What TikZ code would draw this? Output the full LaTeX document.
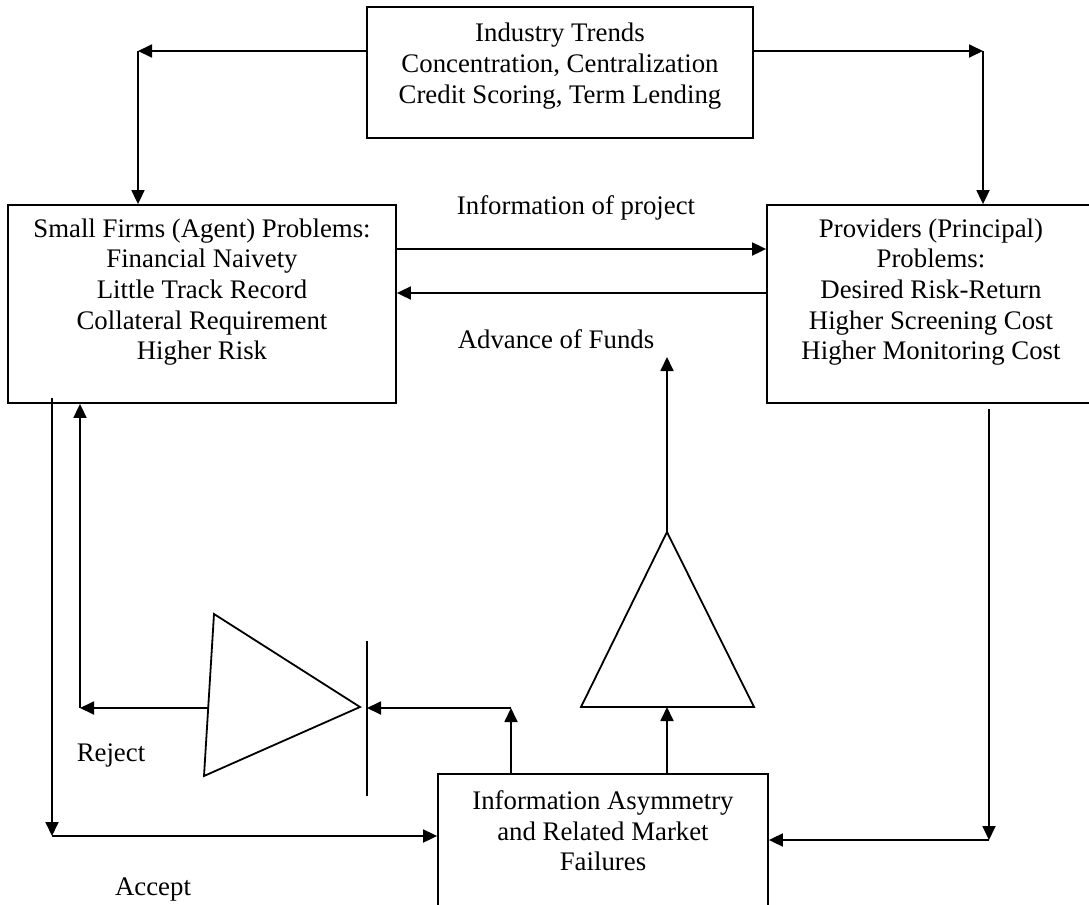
\documentclass[tikz,border=0pt]{standalone}
\usepackage{fontspec}
\setmainfont{Liberation Serif}
\usetikzlibrary{arrows.meta}

\begin{document}
\begin{tikzpicture}[x=0.5pt,y=-0.5pt,line width=0.9pt,
  box/.style={draw,inner sep=0pt},
  txt/.style={align=center,inner sep=0pt,font=\fontsize{13.4}{15.3}\selectfont},
  arr/.style={-{Triangle[length=7pt,width=6.5pt]}}]
\useasboundingbox (0,0) rectangle (1089,905);

% the four boxes
\node[box,minimum width=193pt,minimum height=65.5pt] (trends) at (560,72.5) {};
\node[box,minimum width=194pt,minimum height=99pt] (firms) at (202,304) {};
\node[box,minimum width=162.5pt,minimum height=99pt] (providers) at (929.5,304) {};
\node[box,minimum width=165pt,minimum height=76pt] (asym) at (603,850) {};

\node[txt] (trendstxt) at (560,66) {Industry Trends\\Concentration, Centralization\\Credit Scoring, Term Lending};
\node[txt] (firmstxt) at (202,292) {Small Firms (Agent) Problems:\\Financial Naivety\\Little Track Record\\Collateral Requirement\\Higher Risk};
\node[txt] (provtxt) at (931,292) {Providers (Principal)\\Problems:\\Desired Risk-Return\\Higher Screening Cost\\Higher Monitoring Cost};
\node[txt] (asymtxt) at (603,831) {Information Asymmetry\\and Related Market\\Failures};

\node[txt] (infolbl) at (576,208) {Information of project};
\node[txt] (fundslbl) at (556,339) {Advance of Funds};
\node[txt] (rejectlbl) at (111,755) {Reject};
\node[txt] (acceptlbl) at (153,889) {Accept};

% triangles and bar
\coordinate (ltop) at (214,614);
\coordinate (ltip) at (360,707);
\coordinate (lbot) at (204,776);
\coordinate (lside) at (208,708);
\coordinate (bartop) at (367,641);
\coordinate (barbot) at (367,796);
\coordinate (uapex) at (667,532);
\coordinate (ubl) at (581,707);
\coordinate (ubr) at (754,707);
\draw (ltop) -- (ltip) -- (lbot) -- cycle;
\draw (bartop) -- (barbot);
\draw (uapex) -- (ubr) -- (ubl) -- cycle;

% arrows
\coordinate (tl) at (138,51);
\coordinate (tr) at (983,51);
\draw[arr] (trends.west |- tl) -- (tl);
\draw[arr] (tl) -- (tl |- firms.north);
\draw[arr] (trends.east |- tr) -- (tr);
\draw[arr] (tr) -- (tr |- providers.north);

\draw[arr] (firms.east |- 0,249) -- (providers.west |- 0,249);
\draw[arr] (providers.west |- 0,293) -- (firms.east |- 0,293);

\coordinate (fundsup) at (667,357);
\draw[arr] (uapex) -- (fundsup);
\draw[arr] (asym.north -| uapex) -- (uapex |- ubl);

\coordinate (rejturn) at (511,708);
\draw[arr] (asym.north -| rejturn) -- (rejturn);
\draw[arr] (rejturn) -- (rejturn -| bartop);

\coordinate (rejcorner) at (80,708);
\draw[arr] (lside) -- (rejcorner);
\draw[arr] (rejcorner) -- (rejcorner |- firms.south);

\coordinate (accstart) at (52,398);
\coordinate (acccorner) at (52,836);
\draw[arr] (accstart) -- (acccorner);
\draw[arr] (acccorner) -- (acccorner -| asym.west);

\coordinate (provstart) at (989,409);
\coordinate (provcorner) at (989,840);
\draw[arr] (provstart) -- (provcorner);
\draw[arr] (provcorner) -- (provcorner -| asym.east);
\end{tikzpicture}
\end{document}
